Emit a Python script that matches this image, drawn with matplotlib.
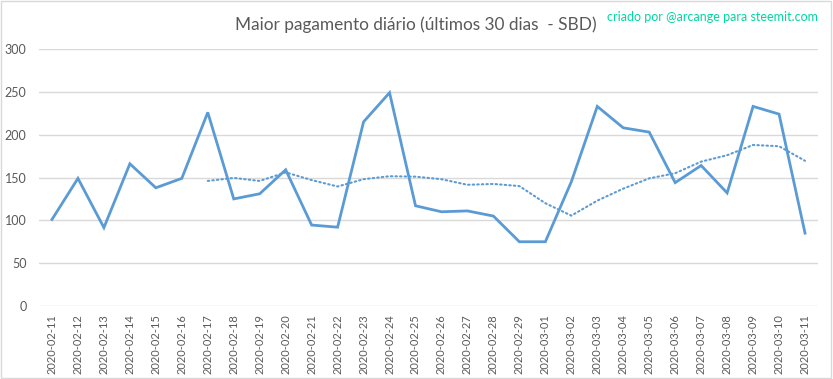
import matplotlib.pyplot as plt
from matplotlib.patches import Rectangle

dates = ["2020-02-11", "2020-02-12", "2020-02-13", "2020-02-14", "2020-02-15",
         "2020-02-16", "2020-02-17", "2020-02-18", "2020-02-19", "2020-02-20",
         "2020-02-21", "2020-02-22", "2020-02-23", "2020-02-24", "2020-02-25",
         "2020-02-26", "2020-02-27", "2020-02-28", "2020-02-29", "2020-03-01",
         "2020-03-02", "2020-03-03", "2020-03-04", "2020-03-05", "2020-03-06",
         "2020-03-07", "2020-03-08", "2020-03-09", "2020-03-10", "2020-03-11"]

# maior pagamento diario (SBD)
payout = [101, 149, 91.5, 166, 138, 149, 226, 125, 131, 159,
          94.5, 92, 215, 249, 117, 110, 111, 105, 75, 75,
          145, 233, 208, 203, 144, 164, 132, 233, 224, 85]

# media movel (linha pontilhada), comeca em 2020-02-17
trend_dates = dates[6:]
trend = [146, 149.5, 146, 156, 147, 139.5, 148, 151.5, 151, 148,
         141.5, 142.5, 140, 120, 105.5, 123, 137, 149, 155, 168.5,
         176, 188, 186.5, 169.5]

blue = "#5B9BD5"
gray = "#595959"
plt.rcParams['font.family'] = ['Lato', 'DejaVu Sans']

fig = plt.figure(figsize=(8.33, 3.79), dpi=100)
ax = fig.add_axes([0.0468, 0.1926, 0.9352, 0.6781])

ax.plot(dates, payout, color=blue, lw=2.0, solid_joinstyle='miter')
ax.plot(trend_dates, trend, color=blue, lw=1.5, linestyle=(0, (0.7, 1.5)),
        dash_capstyle='round')

ax.set_ylim(0, 300)
ax.set_yticks(range(0, 301, 50))
ax.set_xlim(-0.5, len(dates) - 0.5)
ax.grid(axis='y', color='#D9D9D9', lw=1)
ax.set_axisbelow(True)
for s in ax.spines.values():
    s.set_visible(False)
ax.tick_params(length=0, colors=gray)
ax.tick_params(axis='y', pad=9, labelsize=9)
ax.tick_params(axis='x', pad=6, labelsize=8, rotation=90)

fig.text(0.499, 0.934, "Maior pagamento diário (últimos 30 dias  - SBD)",
         ha='center', va='center', fontsize=12.4, color=gray)
fig.text(0.982, 0.955, "criado por @arcange para steemit.com",
         ha='right', va='center', fontsize=9, color='#00D8A0')

fig.patches.append(Rectangle((0.001, 0.002), 0.997, 0.995, transform=fig.transFigure,
                             fill=False, edgecolor='#D9D9D9', lw=1))

fig.savefig("out.png", dpi=100)
